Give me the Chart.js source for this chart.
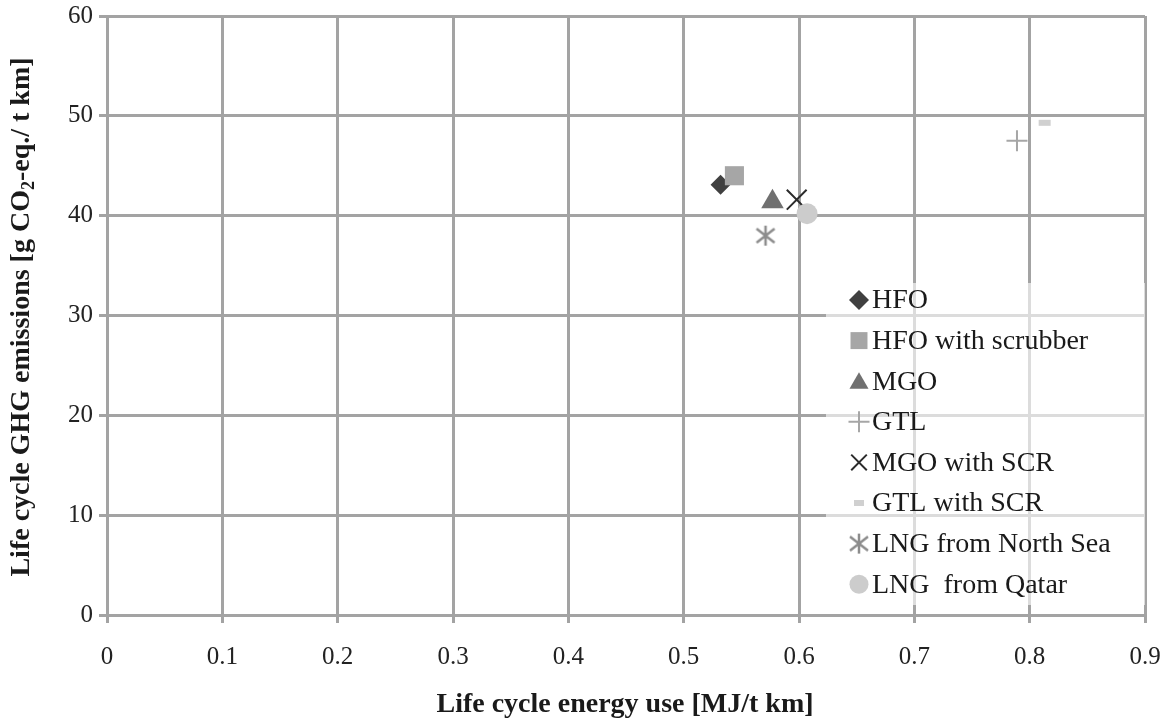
<!DOCTYPE html>
<html>
<head>
<meta charset="utf-8">
<script src="https://cdn.jsdelivr.net/npm/chart.js"></script>
<style>
  body { margin: 0; background: #fff; }
  canvas { display: block; }
</style>
</head>
<body>
<canvas id="lcaChart" width="1166" height="722"></canvas>
<script>
// fuel options
const fuelNames = ["HFO", "HFO with scrubber", "MGO", "GTL", "MGO with SCR", "GTL with SCR", "LNG from North Sea", "LNG  from Qatar"];
const energyUse = [0.532, 0.544, 0.577, 0.789, 0.598, 0.813, 0.571, 0.607];   // MJ/t km
const ghgEmissions = [43.1, 44.0, 41.4, 47.5, 41.6, 49.3, 38.0, 40.2];      // g CO2-eq./t km

const xMin = 0, xMax = 0.9, xStep = 0.1;
const yMin = 0, yMax = 60, yStep = 10;

const gridColor = "#a3a3a3";
const serif = "'Liberation Serif', 'Times New Roman', serif";

// asterisk marker (vertical bar + x), chart.js "star" has 8 arms
function makeAsterisk() {
  var c = document.createElement("canvas");
  c.width = 24; c.height = 24;
  var g = c.getContext("2d");
  g.strokeStyle = "#8c8c8c";
  g.lineWidth = 2.5;
  g.beginPath();
  g.moveTo(12, 2); g.lineTo(12, 22);
  g.moveTo(3, 5); g.lineTo(21, 19);
  g.moveTo(3, 19); g.lineTo(21, 5);
  g.stroke();
  return c;
}
const asterisk = makeAsterisk();

const markerStyles = [
  { pointStyle: "rectRot", radius: 10, bg: "#404040", border: "#404040", borderWidth: 0 },
  { pointStyle: "rect", radius: 13.5, bg: "#a6a6a6", border: "#a6a6a6", borderWidth: 0 },
  { pointStyle: "triangle", radius: 13, bg: "#707070", border: "#707070", borderWidth: 0 },
  { pointStyle: "cross", radius: 10.5, bg: "#a6a6a6", border: "#a6a6a6", borderWidth: 2 },
  { pointStyle: "crossRot", radius: 14, bg: "#2b2b2b", border: "#2b2b2b", borderWidth: 2 },
  { pointStyle: "line", radius: 6, bg: "#d0d0d0", border: "#d0d0d0", borderWidth: 6 },
  { pointStyle: asterisk, radius: 12, bg: "#8c8c8c", border: "#8c8c8c", borderWidth: 0 },
  { pointStyle: "circle", radius: 10.5, bg: "#cccccc", border: "#cccccc", borderWidth: 0 }
];

const datasets = fuelNames.map(function (name, i) {
  var m = markerStyles[i];
  return {
    label: name,
    data: [{ x: energyUse[i], y: ghgEmissions[i] }],
    pointStyle: m.pointStyle,
    pointRadius: m.radius,
    pointHoverRadius: m.radius,
    backgroundColor: m.bg,
    borderColor: m.border,
    borderWidth: m.borderWidth,
    order: fuelNames.length - i   // later series on top, like the original
  };
});

// legend box inside the plot, with see-through white background
const legendBox = {
  id: "legendBox",
  afterDatasetsDraw(chart) {
    var ctx = chart.ctx;
    var left = 826, top = 283, right = 1145, bottom = 605;
    ctx.save();
    ctx.fillStyle = "rgba(255,255,255,0.62)";
    ctx.fillRect(left, top, right - left, bottom - top);
    ctx.font = "28px " + serif;
    ctx.textBaseline = "middle";
    ctx.textAlign = "left";
    for (var i = 0; i < fuelNames.length; i++) {
      var m = markerStyles[i];
      var cy = 300 + i * 40.6;
      var r = m.radius;
      if (m.pointStyle === "rect") r = 12;
      if (m.pointStyle === "triangle") r = 11;
      if (m.pointStyle === "crossRot") r = 11;
      if (m.pointStyle === "line") r = 5;
      if (m.pointStyle === "circle") r = 9.5;
      ctx.fillStyle = m.bg;
      ctx.strokeStyle = m.border;
      ctx.lineWidth = m.borderWidth;
      Chart.helpers.drawPoint(ctx, { pointStyle: m.pointStyle, radius: r, rotation: 0, borderWidth: m.borderWidth }, 859, cy + (m.pointStyle === "triangle" ? 2 : 0));
      ctx.fillStyle = "#1a1a1a";
      ctx.fillText(fuelNames[i], 872, cy + 1);
    }
    ctx.restore();
  }
};

// axis titles drawn by hand so CO2 can get a real subscript
function drawRuns(ctx, runs, cx, cy) {
  var widths = runs.map(function (r) { ctx.font = r.font; return ctx.measureText(r.text).width; });
  var total = widths.reduce(function (a, b) { return a + b; }, 0);
  var x = cx - total / 2;
  runs.forEach(function (r, i) {
    ctx.font = r.font;
    ctx.fillText(r.text, x, cy + (r.dy || 0));
    x += widths[i];
  });
}

const axisTitles = {
  id: "axisTitles",
  afterDraw(chart) {
    var ctx = chart.ctx;
    var big = "bold 28px " + serif;
    var small = "bold 18px " + serif;
    ctx.save();
    ctx.fillStyle = "#1a1a1a";
    ctx.textBaseline = "middle";
    ctx.textAlign = "left";
    drawRuns(ctx, [{ text: "Life cycle energy use [MJ/t km]", font: big }], 625, 705);
    ctx.translate(22, 317);
    ctx.rotate(-Math.PI / 2);
    drawRuns(ctx, [
      { text: "Life cycle GHG emissions [g CO", font: big },
      { text: "2", font: small, dy: 7 },
      { text: "-eq./ t km]", font: big }
    ], 0, 0);
    ctx.restore();
  }
};

new Chart(document.getElementById("lcaChart").getContext("2d"), {
  type: "scatter",
  data: { datasets: datasets },
  options: {
    responsive: false,
    animation: false,
    layout: { padding: { left: 0, right: 21, top: 15, bottom: 0 } },
    plugins: {
      legend: { display: false },
      tooltip: { enabled: false }
    },
    scales: {
      x: {
        type: "linear",
        min: xMin,
        max: xMax,
        afterFit: function (scale) {
          scale.height = 107;
          scale.paddingLeft = 0;
          scale.paddingRight = 0;
        },
        ticks: {
          stepSize: xStep,
          padding: 19,
          color: "#222",
          font: { family: serif, size: 25 },
          callback: function (v) { return String(Math.round(v * 10) / 10); }
        },
        grid: { color: gridColor, lineWidth: 3, tickLength: 8 },
        border: { color: gridColor, width: 3 }
      },
      y: {
        type: "linear",
        min: yMin,
        max: yMax,
        afterFit: function (scale) {
          scale.width = 107;
          scale.paddingTop = 0;
          scale.paddingBottom = 0;
        },
        ticks: {
          stepSize: yStep,
          padding: 6,
          color: "#222",
          font: { family: serif, size: 25 }
        },
        grid: { color: gridColor, lineWidth: 3, tickLength: 8 },
        border: { color: gridColor, width: 3 }
      }
    }
  },
  plugins: [legendBox, axisTitles]
});
</script>
</body>
</html>
